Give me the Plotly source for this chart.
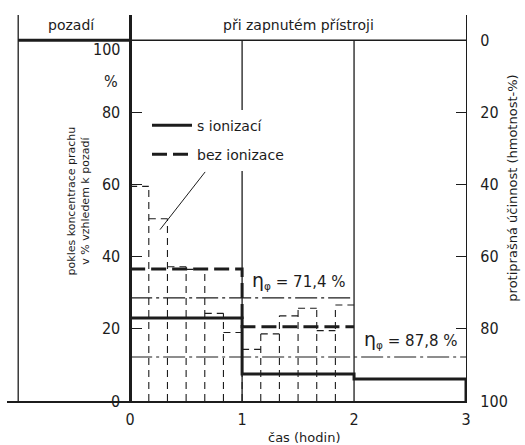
import plotly.graph_objects as go

# ---------------- data ----------------
hour_ticks = [0, 1, 2, 3]
hour_labels = ["0", "1", "2", "3"]
background_x = [-1, 0]
background_level = [100, 100]                      # pozadí = 100 %
with_ion_hourly = [23.0, 7.5, 6.1]                 # s ionizací (hodinové průměry)
without_ion_hourly = [36.6, 20.6]                  # bez ionizace (hodinové průměry)
without_ion_10min = [59.5, 50.5, 37.2, 36.5, 24.3, 19.0,
                     14.3, 18.6, 23.6, 25.7, 19.5, 26.6]  # bez ionizace, 10min intervaly
efficiency = [71.4, 87.8]                          # η_φ (%)
efficiency_end = [2, 3]                            # do kolika hodin
left_ticks = [0, 20, 40, 60, 80]
right_ticks = [0, 20, 40, 60, 80, 100]

INK = "#1c1c1c"
FONT = "DejaVu Sans"
NUMFONT = "Liberation Sans Narrow, DejaVu Sans Condensed, DejaVu Sans"
XR = [-1.1, 3.0]
YR = [0, 107]


def xpaper(v):
    return (v - XR[0]) / (XR[1] - XR[0])


fig = go.Figure()

# background (pozadí)
fig.add_trace(go.Scatter(x=background_x, y=background_level, mode="lines",
                         line=dict(color=INK, width=3), showlegend=False, hoverinfo="skip"))

# thin dashed 10-min bars (bez ionizace)
n = len(without_ion_10min)
step = 1 / 6
bx, by = [], []
for i, h in enumerate(without_ion_10min):
    bx += [i * step, (i + 1) * step, None]
    by += [h, h, None]
for k in range(1, n):
    top = max(without_ion_10min[k - 1], without_ion_10min[k])
    bx += [k * step, k * step, None]
    by += [0, top, None]
fig.add_trace(go.Scatter(x=bx, y=by, mode="lines", connectgaps=False,
                         line=dict(color=INK, width=1.1, dash="7px,5px"),
                         showlegend=False, hoverinfo="skip"))

# hourly mean with ionization
wx = hour_ticks + [hour_ticks[-1]]
wy = with_ion_hourly + [with_ion_hourly[-1], 0]
fig.add_trace(go.Scatter(x=wx, y=wy, mode="lines", line_shape="hv",
                         line=dict(color=INK, width=3), name="s ionizací",
                         legendgroup="a", legendrank=1))

# hourly mean without ionization
ox = hour_ticks[:len(without_ion_hourly) + 1]
oy = without_ion_hourly + [without_ion_hourly[-1]]
fig.add_trace(go.Scatter(x=ox, y=oy, mode="lines", line_shape="hv",
                         line=dict(color=INK, width=3, dash="15px,6px"), name="bez ionizace",
                         legendgroup="b", legendrank=2))

# efficiency dash-dot lines on the right axis
for eff, end in zip(efficiency, efficiency_end):
    fig.add_trace(go.Scatter(x=[0, end], y=[eff, eff], yaxis="y2", mode="lines",
                             line=dict(color=INK, width=1.1, dash="22px,4px,3px,4px"),
                             showlegend=False, hoverinfo="skip"))
    fig.add_annotation(x=end - 1, y=eff, xref="x", yref="y2", xanchor="left", yanchor="bottom",
                       xshift=8, yshift=4, showarrow=False,
                       text='<span style="font-size:19px">η</span><sub>φ</sub> = '
                            + f"{eff:.1f}".replace(".", ",") + " %",
                       font=dict(family=FONT, size=15, color=INK))

# frame lines
shape_line = dict(color=INK, width=1.3)
fig.add_shape(type="line", x0=-1, x1=-1, y0=0, y1=YR[1], xref="x", yref="y", line=shape_line)
fig.add_shape(type="line", x0=-1, x1=3, y0=100, y1=100, xref="x", yref="y", line=shape_line)
for h in hour_ticks[1:-1]:
    fig.add_shape(type="line", x0=h, x1=h, y0=0, y1=100, xref="x", yref="y", line=shape_line,
                  layer="below")

# leader line from legend text to the dashed bars
fig.add_shape(type="line", x0=1.6 * step, y0=47.5, x1=0.67, y1=63.5, xref="x", yref="y",
              line=dict(color=INK, width=1))

# header texts
fig.add_annotation(x=-0.52, y=104.2, xref="x", yref="y", text="pozadí",
                   showarrow=False, xanchor="center", font=dict(family=FONT, size=14, color=INK))
fig.add_annotation(x=1.5, y=104.2, xref="x", yref="y", text="při zapnutém přístroji",
                   showarrow=False, xanchor="center", font=dict(family=FONT, size=14, color=INK))

# left tick extras
fig.add_annotation(x=0, y=97.5, xref="x", yref="y", text="100", showarrow=False, xanchor="right",
                   xshift=-8, font=dict(family=NUMFONT, size=16, color=INK))
fig.add_annotation(x=0, y=88.5, xref="x", yref="y", text="%", showarrow=False, xanchor="right",
                   xshift=-10, font=dict(family=NUMFONT, size=16, color=INK))

# axis titles
fig.add_annotation(x=-0.46, y=55.5, xref="x", yref="y", textangle=-90, showarrow=False,
                   text="pokles koncentrace prachu<br>v % vzhledem k pozadí",
                   font=dict(family=FONT, size=11, color=INK))
fig.add_annotation(x=1.122, y=59, xref="paper", yref="y", textangle=-90, showarrow=False,
                   text="protiprašná účinnost (hmotnost-%)",
                   font=dict(family=FONT, size=13, color=INK))
fig.add_annotation(x=1.55, y=0, xref="x", yref="paper", yanchor="top", yshift=-27,
                   showarrow=False, text="čas (hodin)",
                   font=dict(family=FONT, size=13, color=INK))

fig.update_layout(
    width=525, height=445,
    margin=dict(l=7, r=59, t=15, b=44),
    paper_bgcolor="white", plot_bgcolor="white",
    font=dict(family=FONT, color=INK),
    xaxis=dict(range=XR, showgrid=False, zeroline=False, showline=True, linewidth=2,
               linecolor=INK, tickvals=hour_ticks, ticktext=hour_labels, ticks="",
               ticklabelstandoff=3, tickfont=dict(family=NUMFONT, size=16, color=INK)),
    yaxis=dict(range=YR, showgrid=False, zeroline=False, showline=True, linewidth=2.5,
               linecolor=INK, anchor="free", position=xpaper(0), tickvals=left_ticks,
               ticks="inside", ticklen=10, tickwidth=1, tickcolor=INK, ticklabelstandoff=6,
               tickfont=dict(family=NUMFONT, size=16, color=INK)),
    yaxis2=dict(range=[100 - YR[0], 100 - YR[1]], overlaying="y", side="right", anchor="x",
                showgrid=False, zeroline=False, showline=True, linewidth=1.3, linecolor=INK,
                tickvals=right_ticks, ticks="inside", ticklen=10, tickwidth=1, tickcolor=INK,
                ticklabelstandoff=10, tickfont=dict(family=NUMFONT, size=16, color=INK)),
    legend=dict(x=0.305, y=0.755, xanchor="left", yanchor="top", bgcolor="white",
                borderwidth=0, font=dict(family=FONT, size=14, color=INK), itemwidth=40,
                tracegroupgap=8, traceorder="grouped"),
    showlegend=True,
)

fig.write_html("out.html")
